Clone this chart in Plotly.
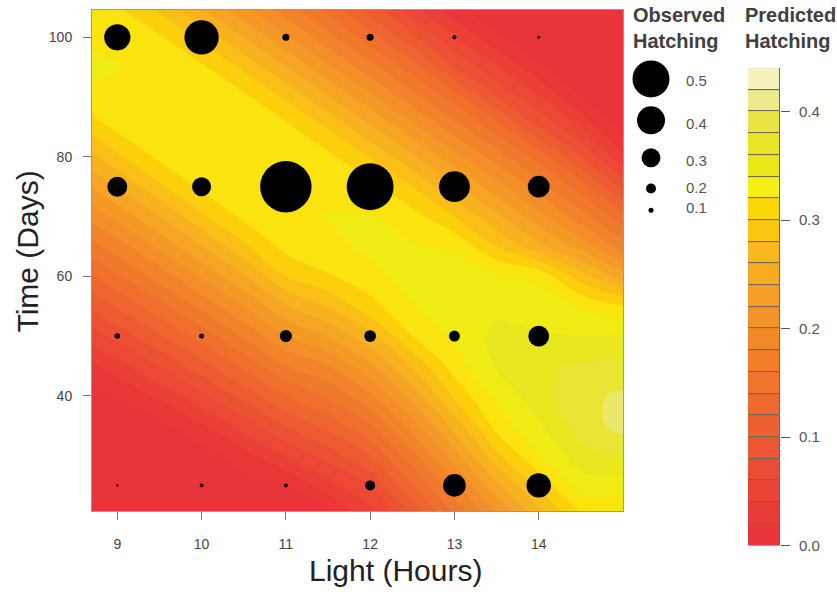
import plotly.graph_objects as go

# ---------------- data ----------------
hours_grid = [8.7, 9, 9.5, 10, 10.5, 11, 11.5, 12, 12.5, 13, 13.5, 14, 14.5, 15.0]
days_grid = [20.7, 25, 30, 35, 40, 45, 50, 55, 60, 65, 70, 75, 80, 85, 90, 95, 100, 104.6]

# predicted hatching surface (rows = days_grid, columns = hours_grid)
predicted = [
    [0.000, 0.000, 0.000, 0.000, 0.002, 0.006, 0.019, 0.055, 0.106, 0.164, 0.221, 0.275, 0.322, 0.330],
    [0.000, 0.000, 0.000, 0.002, 0.010, 0.018, 0.051, 0.081, 0.138, 0.195, 0.255, 0.305, 0.350, 0.347],
    [0.000, 0.000, 0.003, 0.010, 0.031, 0.062, 0.089, 0.120, 0.174, 0.232, 0.295, 0.339, 0.372, 0.382],
    [0.004, 0.006, 0.012, 0.038, 0.069, 0.101, 0.126, 0.158, 0.210, 0.268, 0.328, 0.357, 0.390, 0.407],
    [0.012, 0.020, 0.045, 0.075, 0.107, 0.140, 0.163, 0.197, 0.247, 0.304, 0.345, 0.372, 0.395, 0.403],
    [0.036, 0.052, 0.081, 0.112, 0.145, 0.179, 0.200, 0.236, 0.283, 0.330, 0.362, 0.376, 0.383, 0.385],
    [0.070, 0.087, 0.117, 0.149, 0.183, 0.219, 0.242, 0.275, 0.320, 0.343, 0.365, 0.362, 0.360, 0.362],
    [0.105, 0.122, 0.152, 0.185, 0.220, 0.258, 0.282, 0.313, 0.339, 0.355, 0.355, 0.350, 0.338, 0.322],
    [0.139, 0.157, 0.188, 0.222, 0.258, 0.300, 0.318, 0.333, 0.350, 0.348, 0.345, 0.335, 0.290, 0.250],
    [0.173, 0.191, 0.224, 0.259, 0.296, 0.327, 0.334, 0.345, 0.342, 0.337, 0.300, 0.266, 0.232, 0.190],
    [0.207, 0.226, 0.260, 0.296, 0.325, 0.336, 0.341, 0.341, 0.328, 0.300, 0.265, 0.228, 0.188, 0.148],
    [0.242, 0.261, 0.296, 0.324, 0.333, 0.337, 0.333, 0.326, 0.300, 0.264, 0.228, 0.191, 0.150, 0.095],
    [0.276, 0.296, 0.325, 0.331, 0.335, 0.332, 0.325, 0.299, 0.264, 0.227, 0.190, 0.152, 0.100, 0.045],
    [0.310, 0.325, 0.333, 0.335, 0.331, 0.325, 0.298, 0.263, 0.226, 0.188, 0.150, 0.100, 0.058, 0.008],
    [0.335, 0.334, 0.337, 0.331, 0.325, 0.297, 0.262, 0.225, 0.188, 0.150, 0.100, 0.062, 0.020, 0.000],
    [0.347, 0.341, 0.332, 0.324, 0.296, 0.261, 0.224, 0.187, 0.150, 0.100, 0.062, 0.024, 0.000, 0.000],
    [0.335, 0.333, 0.323, 0.295, 0.260, 0.224, 0.187, 0.150, 0.105, 0.062, 0.024, 0.000, 0.000, 0.000],
    [0.322, 0.323, 0.297, 0.262, 0.226, 0.190, 0.153, 0.112, 0.068, 0.028, 0.000, 0.000, 0.000, 0.000],
]

# observed hatching at each light / time combination
obs_hours = [9, 10, 11, 12, 13, 14]
obs_day_100 = [0.38, 0.47, 0.14, 0.14, 0.08, 0.05]
obs_day_75 = [0.31, 0.30, 0.66, 0.61, 0.43, 0.33]
obs_day_50 = [0.11, 0.10, 0.225, 0.22, 0.21, 0.32]
obs_day_25 = [0.03, 0.07, 0.07, 0.20, 0.34, 0.36]
obs_days = [100, 75, 50, 25]

legend_values = [0.5, 0.4, 0.3, 0.2, 0.1]
legend_labels = ["0.5", "0.4", "0.3", "0.2", "0.1"]

band_lower = [0.00, 0.02, 0.04, 0.06, 0.08, 0.10, 0.12, 0.14, 0.16, 0.18, 0.20,
              0.22, 0.24, 0.26, 0.28, 0.30, 0.32, 0.34, 0.36, 0.38, 0.40, 0.42]
band_colors = ["#E9353A", "#EA3B38", "#EB4336", "#EC4C34", "#ED5632", "#EE6030",
               "#EF6A2E", "#F0742C", "#F27E2A", "#F38829", "#F49327", "#F59E25",
               "#F7AA22", "#F9B81C", "#FBC612", "#FDD808", "#F6EE14", "#E9E716",
               "#E7E526", "#E8E442", "#EEEA8C", "#F6F2BE"]
cbar_ticks = [0.0, 0.1, 0.2, 0.3, 0.4]
cbar_ticktext = ["0.0", "0.1", "0.2", "0.3", "0.4"]

# ---------------- style helpers ----------------
W, H = 837, 597
FONT = "Liberation Sans, Arial, sans-serif"


def px_x(p):
    return p / W


def px_y(p):
    return 1 - p / H


def dot_size(v):
    keys = [0.0, 0.1, 0.2, 0.3, 0.4, 0.5]
    sz = [1, 5, 10, 19, 28, 37]
    if v >= 0.5:
        return 37 + 90 * (v - 0.5)
    for i in range(len(keys) - 1):
        if keys[i] <= v <= keys[i + 1]:
            t = (v - keys[i]) / (keys[i + 1] - keys[i])
            return sz[i] + t * (sz[i + 1] - sz[i])
    return 1


# contour colourscale: exact band colours at band centres (start=0.02, size=0.02 -> domain 0..0.42)
n = len(band_colors)
cscale = [[0.0, band_colors[0]]]
for k in range(n - 1):
    cscale.append([(2 * k + 1) / 42, band_colors[k]])
cscale.append([1.0, band_colors[-1]])

fig = go.Figure()

fig.add_trace(go.Contour(
    x=hours_grid, y=days_grid, z=predicted,
    autocontour=False,
    contours=dict(start=0.02, end=0.42, size=0.02, coloring="fill", showlines=False),
    line=dict(width=0, smoothing=1.3),
    colorscale=cscale, showscale=False, hoverinfo="skip",
    xaxis="x", yaxis="y",
))

# observed points
px_list, py_list, sz_list = [], [], []
for d, row in zip(obs_days, [obs_day_100, obs_day_75, obs_day_50, obs_day_25]):
    for h, v in zip(obs_hours, row):
        px_list.append(h)
        py_list.append(d)
        sz_list.append(dot_size(v))
fig.add_trace(go.Scatter(
    x=px_list, y=py_list, mode="markers",
    marker=dict(color="black", size=sz_list, opacity=1, line=dict(width=0)),
    xaxis="x", yaxis="y", showlegend=False, hoverinfo="skip",
))

# colour bar built from bars
fig.add_trace(go.Bar(
    x=[0] * n, y=[0.02] * n, base=band_lower, width=1,
    marker=dict(color=band_colors, line=dict(color="#6b6b5a", width=1)),
    xaxis="x2", yaxis="y2", showlegend=False, hoverinfo="skip",
))

# size legend (pixel-space axes in the right margin, not overlapping other subplots)
LEG_X0, LEG_X1, LEG_Y0, LEG_Y1 = 626, 740, 60, 232
LEGEND_X_PX = 651
LEGEND_Y_PX = [80, 122, 160, 191, 213]
fig.add_trace(go.Scatter(
    x=[LEGEND_X_PX] * len(legend_values), y=LEGEND_Y_PX, mode="markers",
    marker=dict(color="black", size=[dot_size(v) for v in legend_values], opacity=1,
                line=dict(width=0)),
    xaxis="x3", yaxis="y3", showlegend=False, hoverinfo="skip", cliponaxis=False,
))

annotations = []
LABEL_Y_PX = [82, 125, 163, 190, 210]
for lab, yy in zip(legend_labels, LABEL_Y_PX):
    annotations.append(dict(x=px_x(684), y=px_y(yy), xref="paper", yref="paper",
                            text=lab, showarrow=False, xanchor="left", yanchor="middle",
                            font=dict(family=FONT, size=15, color="#555")))

annotations += [
    dict(x=px_x(631), y=px_y(2), xref="paper", yref="paper", text="<b>Observed<br>Hatching</b>",
         showarrow=False, xanchor="left", yanchor="top", align="left",
         font=dict(family=FONT, size=20, color="#404040")),
    dict(x=px_x(743), y=px_y(2), xref="paper", yref="paper", text="<b>Predicted<br>Hatching</b>",
         showarrow=False, xanchor="left", yanchor="top", align="left",
         font=dict(family=FONT, size=20, color="#404040")),
    dict(x=px_x(395), y=px_y(578), xref="paper", yref="paper", text="Light (Hours)",
         showarrow=False, xanchor="center", yanchor="middle",
         font=dict(family=FONT, size=30, color="#222")),
    dict(x=px_x(28), y=px_y(255), xref="paper", yref="paper", text="Time (Days)",
         showarrow=False, xanchor="center", yanchor="middle", textangle=-90,
         font=dict(family=FONT, size=30, color="#222")),
]

fig.update_layout(
    width=W, height=H,
    margin=dict(l=0, r=0, t=0, b=0, pad=0),
    paper_bgcolor="white", plot_bgcolor="rgba(0,0,0,0)",
    showlegend=False,
    bargap=0,
    font=dict(family=FONT),
    xaxis=dict(domain=[px_x(92), px_x(623)], range=[8.7, 15.0], anchor="y",
               tickvals=obs_hours, ticks="outside", ticklen=8, tickcolor="#777",
               tickfont=dict(size=14, color="#444"), ticklabelstandoff=12,
               showgrid=False, zeroline=False, showline=True, mirror=True,
               linecolor="#999", linewidth=1),
    yaxis=dict(domain=[px_y(518), px_y(10)], range=[20.7, 104.6], anchor="x",
               tickvals=[40, 60, 80, 100], ticks="outside", ticklen=8, tickcolor="#777",
               tickfont=dict(size=14, color="#444"), ticklabelstandoff=8,
               showgrid=False, zeroline=False, showline=True, mirror=True,
               linecolor="#999", linewidth=1),
    xaxis2=dict(domain=[px_x(748), px_x(780)], range=[-0.5, 0.5], anchor="y2",
                visible=False, fixedrange=True),
    yaxis2=dict(domain=[px_y(553), px_y(69)], range=[0, 0.44], anchor="x2", side="right",
                tickvals=cbar_ticks, ticktext=cbar_ticktext, ticks="outside", ticklen=9,
                tickcolor="#555", tickfont=dict(size=15, color="#555"), ticklabelstandoff=6,
                showgrid=False, zeroline=False, showline=False),
    xaxis3=dict(domain=[px_x(LEG_X0), px_x(LEG_X1)], range=[LEG_X0, LEG_X1], anchor="y3",
                visible=False, fixedrange=True),
    yaxis3=dict(domain=[px_y(LEG_Y1), px_y(LEG_Y0)], range=[LEG_Y1, LEG_Y0], anchor="x3",
                visible=False, fixedrange=True),
    annotations=annotations,
)

fig.write_html(
    "out.html",
    config={"displayModeBar": False},
    post_script="document.body.style.margin='0';document.body.style.overflow='hidden';",
)
